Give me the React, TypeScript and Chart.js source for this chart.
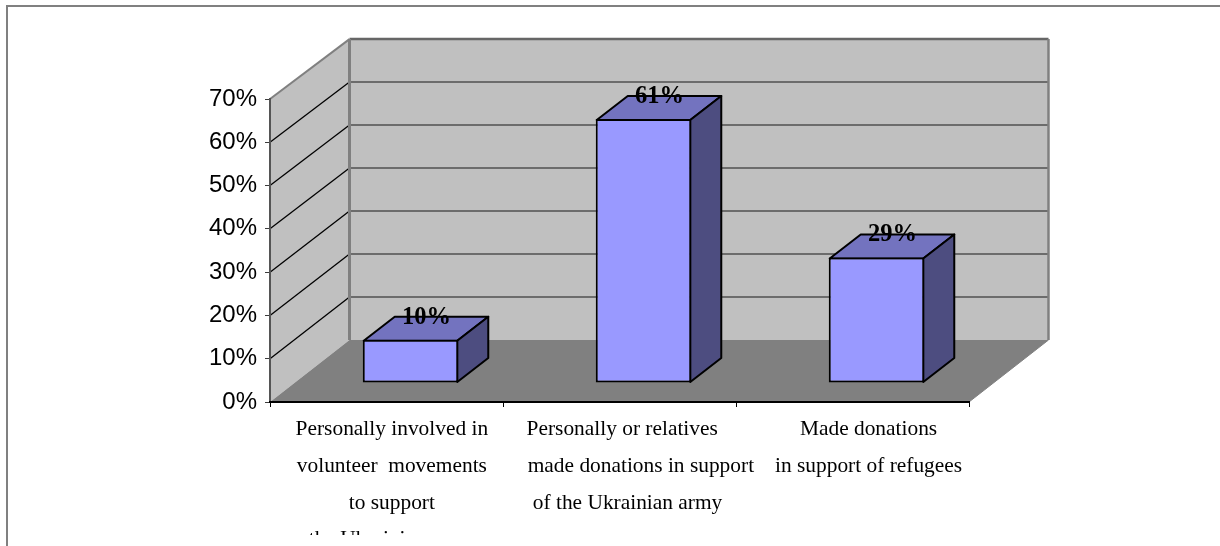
import React, { useEffect, useRef } from "react";
import { Chart, registerables } from "chart.js";

Chart.register(...registerables);

// Leading spaces are part of the labels, as in the source: they push each line to the right.
const categories = [
  ["  Personally involved in", "  volunteer  movements", "  to support", "  the Ukrainian army"],
  [" Personally or relatives", "        made donations in support", "   of the Ukrainian army"],
  ["      Made donations", "      in support of refugees"],
];
const shareValues = [10, 61, 29];
const yTickValues = [0, 10, 20, 30, 40, 50, 60, 70];

const WALL = { dx: 79.5, dy: -62, k: 0.993 };
const BAR = { dx: 24, dy: -19, depthX: 31, depthY: -24 };

const scene3d = {
  id: "scene3d",
  beforeDraw(chart: any) {
    const { ctx, scales } = chart;
    const { x, y } = scales;
    const left = x.left;
    const right = x.right;
    const y0 = y.getPixelForValue(0);
    const backY = (v: number) => y0 + WALL.dy - (y0 - y.getPixelForValue(v)) * WALL.k;
    const top = yTickValues[yTickValues.length - 1];
    const poly = (pts: number[][], fill: string) => {
      ctx.beginPath();
      pts.forEach((p, i) => (i ? ctx.lineTo(p[0], p[1]) : ctx.moveTo(p[0], p[1])));
      ctx.closePath();
      ctx.fillStyle = fill;
      ctx.fill();
    };
    const line = (a: number[], b: number[], color: string, w: number) => {
      ctx.beginPath();
      ctx.moveTo(a[0], a[1]);
      ctx.lineTo(b[0], b[1]);
      ctx.strokeStyle = color;
      ctx.lineWidth = w;
      ctx.stroke();
    };
    ctx.save();
    // page frame
    ctx.strokeStyle = "#808080";
    ctx.lineWidth = 2;
    ctx.beginPath();
    ctx.moveTo(7, 546);
    ctx.lineTo(7, 6);
    ctx.lineTo(1220, 6);
    ctx.stroke();
    const bl = left + WALL.dx;
    const br = right + WALL.dx;
    // walls and floor
    poly([[left, y0], [left, y.getPixelForValue(top)], [bl, backY(top)], [bl, backY(0)]], "#c0c0c0");
    poly([[bl, backY(0)], [bl, backY(top)], [br, backY(top)], [br, backY(0)]], "#c0c0c0");
    poly([[left, y0], [right, y0], [br, backY(0)], [bl, backY(0)]], "#808080");
    // gridlines
    yTickValues.slice(1, -1).forEach((v) => {
      line([left, y.getPixelForValue(v)], [bl, backY(v)], "#000000", 1.3);
      line([bl, backY(v)], [br, backY(v)], "#505050", 1.5);
    });
    // wall edges
    line([left, y.getPixelForValue(top)], [bl, backY(top)], "#808080", 2);
    line([bl, backY(top)], [br, backY(top)], "#666666", 2.5);
    line([bl, backY(top)], [bl, backY(0)], "#808080", 3);
    line([br, backY(top)], [br, backY(0)], "#808080", 2.5);
    line([right, y0], [br, backY(0)], "#808080", 1);
    ctx.restore();
  },
  beforeDatasetDraw(chart: any) {
    const { ctx, scales } = chart;
    const y0 = scales.y.getPixelForValue(0);
    const meta = chart.getDatasetMeta(0);
    ctx.save();
    ctx.lineWidth = 2;
    ctx.strokeStyle = "#000000";
    ctx.lineJoin = "round";
    meta.data.forEach((bar: any) => {
      const { x, y, width } = bar.getProps(["x", "y", "width"], true);
      const topY = y + BAR.dy + 1;
      const botY = y0 + BAR.dy - 1;
      const r = x + width / 2 + BAR.dx - 1;
      const l = x - width / 2 + BAR.dx + 1;
      ctx.beginPath();
      ctx.moveTo(l, topY);
      ctx.lineTo(l + BAR.depthX, topY + BAR.depthY);
      ctx.lineTo(r + BAR.depthX, topY + BAR.depthY);
      ctx.lineTo(r, topY);
      ctx.closePath();
      ctx.fillStyle = "#7373bf";
      ctx.fill();
      ctx.stroke();
      ctx.beginPath();
      ctx.moveTo(r, topY);
      ctx.lineTo(r + BAR.depthX, topY + BAR.depthY);
      ctx.lineTo(r + BAR.depthX, botY + BAR.depthY);
      ctx.lineTo(r, botY);
      ctx.closePath();
      ctx.fillStyle = "#4d4d80";
      ctx.fill();
      ctx.stroke();
    });
    ctx.restore();
    ctx.save();
    // front faces: same bars, moved to their place on the floor
    ctx.translate(BAR.dx, BAR.dy);
  },
  afterDatasetDraw(chart: any) {
    chart.ctx.restore();
  },
  afterDatasetsDraw(chart: any) {
    const { ctx } = chart;
    ctx.save();
    ctx.font = 'bold 24.5px "Liberation Serif"';
    ctx.fillStyle = "#000000";
    ctx.textAlign = "center";
    ctx.textBaseline = "middle";
    chart.getDatasetMeta(0).data.forEach((bar: any, i: number) => {
      const { x, y } = bar.getProps(["x", "y"], true);
      ctx.fillText(`${shareValues[i]}%`, x + BAR.dx + BAR.depthX / 2 + 0.5, y + BAR.dy + BAR.depthY + 1.5);
    });
    ctx.restore();
  },
  afterDraw(chart: any) {
    // the picture is cut off just under the top of the fourth label line
    const { ctx } = chart;
    ctx.save();
    ctx.fillStyle = "#ffffff";
    ctx.fillRect(12, 535, 1208, 11);
    ctx.restore();
  },
};

export default function App() {
  const ref = useRef<HTMLCanvasElement>(null);
  useEffect(() => {
    document.body.style.margin = "0";
    const chart = new Chart(ref.current as HTMLCanvasElement, {
      type: "bar",
      data: {
        labels: categories as any,
        datasets: [
          {
            data: shareValues,
            backgroundColor: "#9999ff",
            borderColor: "#000000",
            borderWidth: 2,
            borderSkipped: false,
            barPercentage: 0.41,
            categoryPercentage: 1,
          },
        ],
      },
      options: {
        animation: false,
        responsive: false,
        layout: { padding: { top: 99, right: 251, left: 0, bottom: 0 } },
        plugins: { legend: { display: false }, tooltip: { enabled: false } },
        scales: {
          y: {
            min: 0,
            max: 70,
            afterFit: (s: any) => {
              s.width = 270;
            },
            afterBuildTicks: (s: any) => {
              s.ticks = yTickValues.map((value) => ({ value }));
            },
            grid: { drawOnChartArea: false, drawTicks: true, tickLength: 5, color: "#3c3c3c", lineWidth: 1 },
            border: { display: true, color: "#555555", width: 2 },
            ticks: {
              padding: 8,
              color: "#000000",
              font: { family: '"Liberation Sans"', size: 24 },
              callback: (v: any) => `${v}%`,
            },
          },
          x: {
            afterFit: (s: any) => {
              s.height = 144;
            },
            grid: { drawOnChartArea: false, drawTicks: true, tickLength: 5, color: "#000000", lineWidth: 1 },
            border: { display: true, color: "#000000", width: 2 },
            ticks: {
              padding: 4,
              maxRotation: 0,
              autoSkip: false,
              color: "#000000",
              font: { family: '"Liberation Serif"', size: 21.4, lineHeight: 1.72 },
            },
          },
        },
      },
      plugins: [scene3d],
    } as any);
    return () => chart.destroy();
  }, []);
  return <canvas ref={ref} width={1220} height={546} style={{ display: "block" }} />;
}
